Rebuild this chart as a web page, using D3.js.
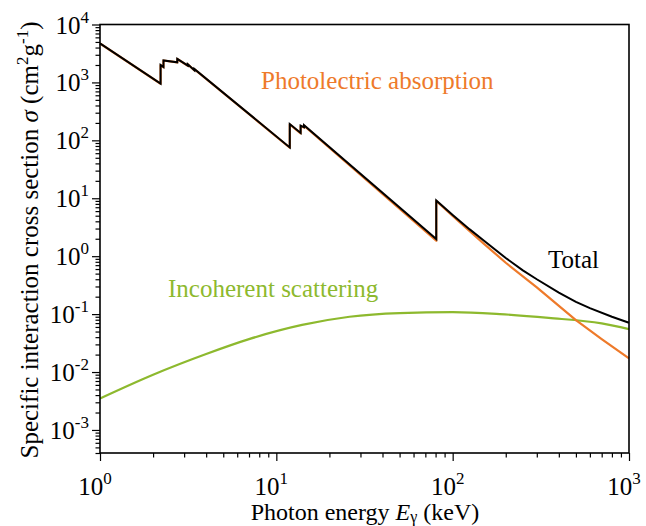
<!DOCTYPE html>
<html>
<head>
<meta charset="utf-8">
<script src="https://cdn.jsdelivr.net/npm/d3@7"></script>
<style>
  html, body { margin: 0; padding: 0; background: #fff; }
</style>
</head>
<body>
<svg id="chart" width="646" height="526" font-family="'Liberation Serif', 'Times New Roman', Times, 'DejaVu Serif', serif"></svg>
<script>
// Photon energies (keV) and mass cross sections (cm^2/g); repeated energies mark absorption edges
const photoEnergy = [1.0, 2.206, 2.206, 2.291, 2.291, 2.743, 2.743, 3.148, 3.148, 3.425, 3.425,
  11.918, 11.918, 13.734, 13.734, 14.353, 14.353, 80.725, 80.725, 100, 150, 200, 300, 500, 700, 1000];
const photoValue = [4700, 950, 1990, 1830, 2390, 2220, 2540, 1940, 2050, 1620, 1700,
  74.5, 189, 132, 177, 166, 180, 1.85, 9.0, 4.95, 1.65, 0.77, 0.29, 0.079, 0.0371, 0.0172];

const totalEnergy = [1.0, 2.206, 2.206, 2.291, 2.291, 2.743, 2.743, 3.148, 3.148, 3.425, 3.425,
  11.918, 11.918, 13.734, 13.734, 14.353, 14.353, 80.725, 80.725, 100, 125, 150, 200, 250, 300,
  400, 500, 600, 800, 1000];
const totalValue = [4710, 955, 2000, 1840, 2400, 2230, 2550, 1950, 2060, 1630, 1710,
  75.5, 191, 134, 179, 168, 182, 1.98, 9.15, 5.15, 2.9, 1.86, 0.93, 0.57, 0.40,
  0.235, 0.163, 0.127, 0.090, 0.0708];

const incohEnergy = [1, 2, 4, 7, 14, 26, 50, 100, 185, 350, 700, 1000];
const incohValue = [0.0035, 0.0090, 0.0205, 0.037, 0.065, 0.090, 0.104, 0.108, 0.100, 0.086, 0.069, 0.055];

const xMajorTicks = [1, 10, 100, 1000];
const xTickExponents = ["0", "1", "2", "3"];
const yMajorTicks = [1e-3, 1e-2, 1e-1, 1e0, 1e1, 1e2, 1e3, 1e4];
const yTickExponents = ["-3", "-2", "-1", "0", "1", "2", "3", "4"];

const svg = d3.select("#chart");
const plotL = 100, plotR = 629, plotT = 24.5, plotB = 453;

const x = d3.scaleLog().domain([1, 1000]).range([plotL, plotR]);
const y = d3.scaleLog().domain([4e-4, 1e4]).range([plotB, plotT]);

const minorOf = (lo, hi) => {
  const out = [];
  for (let k = Math.floor(Math.log10(lo)); k <= Math.ceil(Math.log10(hi)); k++) {
    for (let m = 2; m <= 9; m++) {
      const v = m * Math.pow(10, k);
      if (v >= lo * 0.9999 && v <= hi * 1.0001) out.push(v);
    }
  }
  return out;
};

const orange = "#EE7A2A";
const green = "#8DB92E";

// axes: major + minor ticks, drawn outward
const axisStyle = g => {
  g.select(".domain").remove();
  g.selectAll(".tick line").attr("stroke", "#000").attr("stroke-width", 1.2);
  g.selectAll(".tick text").remove();
};

svg.append("g").attr("transform", `translate(${plotL},0)`)
  .call(d3.axisLeft(y).tickValues(yMajorTicks).tickSize(8)).call(axisStyle);
svg.append("g").attr("transform", `translate(${plotL},0)`)
  .call(d3.axisLeft(y).tickValues(minorOf(4e-4, 1e4)).tickSize(4.5)).call(axisStyle);
svg.append("g").attr("transform", `translate(0,${plotB})`)
  .call(d3.axisBottom(x).tickValues(xMajorTicks).tickSize(8)).call(axisStyle);
svg.append("g").attr("transform", `translate(0,${plotB})`)
  .call(d3.axisBottom(x).tickValues(minorOf(1, 1000)).tickSize(4.5)).call(axisStyle);

// tick labels as powers of ten
const yLab = svg.append("g").selectAll("text").data(yMajorTicks).join("text")
  .attr("x", 89).attr("y", d => y(d) + 9)
  .attr("text-anchor", "end").attr("font-size", 25).attr("fill", "#000");
yLab.append("tspan").text("10");
yLab.append("tspan").attr("font-size", 17).attr("dy", -11).text((d, i) => yTickExponents[i]);

const xLab = svg.append("g").selectAll("text").data(xMajorTicks).join("text")
  .attr("x", d => x(d) - 5).attr("y", 495)
  .attr("text-anchor", "middle").attr("font-size", 25).attr("fill", "#000");
xLab.append("tspan").text("10");
xLab.append("tspan").attr("font-size", 17).attr("dy", -11).text((d, i) => xTickExponents[i]);

// curves
const lineOf = (es, vs, curve) => d3.line()
  .x((d, i) => x(es[i])).y((d, i) => y(vs[i])).curve(curve)(es);

svg.append("path").attr("d", lineOf(incohEnergy, incohValue, d3.curveMonotoneX))
  .attr("fill", "none").attr("stroke", green).attr("stroke-width", 2.2);
svg.append("path").attr("d", lineOf(photoEnergy, photoValue, d3.curveLinear))
  .attr("fill", "none").attr("stroke", orange).attr("stroke-width", 2.2)
  .attr("stroke-linejoin", "round");
svg.append("path").attr("d", lineOf(totalEnergy, totalValue, d3.curveLinear))
  .attr("fill", "none").attr("stroke", "#000").attr("stroke-width", 2)
  .attr("stroke-linejoin", "miter");

// frame
svg.append("rect").attr("x", plotL).attr("y", plotT)
  .attr("width", plotR - plotL).attr("height", plotB - plotT)
  .attr("fill", "none").attr("stroke", "#000").attr("stroke-width", 1.6);

// series labels
svg.append("text").attr("x", 261).attr("y", 89).attr("font-size", 25)
  .attr("fill", orange).text("Photolectric absorption");
svg.append("text").attr("x", 548).attr("y", 268).attr("font-size", 25)
  .attr("fill", "#000").text("Total");
svg.append("text").attr("x", 168).attr("y", 297).attr("font-size", 25)
  .attr("fill", green).text("Incoherent scattering");

// axis titles
const xt = svg.append("text").attr("x", 365).attr("y", 520)
  .attr("text-anchor", "middle").attr("font-size", 24).attr("fill", "#000");
xt.append("tspan").text("Photon energy ");
xt.append("tspan").attr("font-style", "italic").text("E");
xt.append("tspan").attr("font-size", 16).attr("dy", 2).text("γ");
xt.append("tspan").attr("dy", -2).text(" (keV)");

const yt = svg.append("text").attr("transform", "translate(38,240) rotate(-90)")
  .attr("text-anchor", "middle").attr("font-size", 25).attr("fill", "#000");
yt.append("tspan").text("Specific interaction cross section  ");
yt.append("tspan").attr("font-style", "italic").text("σ");
yt.append("tspan").text(" (cm");
yt.append("tspan").attr("font-size", 17).attr("dy", -10).text("2");
yt.append("tspan").attr("dy", 10).text("g");
yt.append("tspan").attr("font-size", 17).attr("dy", -10).text("-1");
yt.append("tspan").attr("dy", 10).text(")");
</script>
</body>
</html>
